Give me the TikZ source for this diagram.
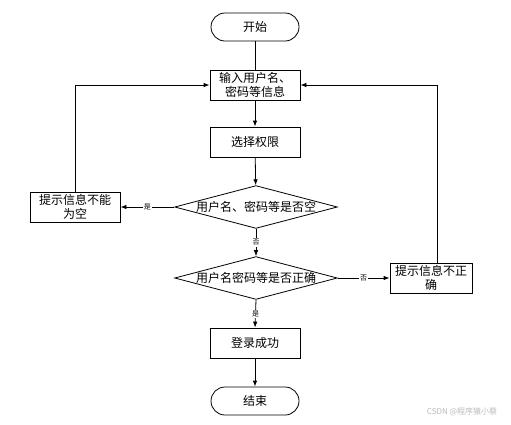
\documentclass[tikz,border=0pt]{standalone}
\usepackage{fontspec}
\setmainfont{Noto Sans CJK SC}
\usetikzlibrary{shapes.geometric,arrows.meta}

\tikzset{
    box/.style={draw, minimum width=90pt, minimum height=30pt, align=center, inner sep=1pt},
    term/.style={draw, rounded corners=14pt, minimum width=88pt, minimum height=28pt},
    decide/.style={diamond, draw, aspect=3.8, minimum width=160pt, minimum height=42pt, inner sep=0pt},
    lbl/.style={fill=white, inner sep=1pt, font=\fontsize{7}{8}\selectfont},
    flow/.style={-{Latex[length=6pt,width=4.5pt]}}
}

\begin{document}
\begin{tikzpicture}[x=1pt, y=-1pt, line width=0.8pt, font=\fontsize{12}{14}\selectfont]
    \useasboundingbox (0,0) rectangle (511,424);

    \node[term] (start) at (255,27) {开始};
    \node[box] (input) at (255,85) {输入用户名、\\密码等信息};
    \node[box] (perm) at (255,142) {选择权限};
    \node[decide] (empty) at (256,207) {用户名、密码等是否空};
    \node[box] (emptymsg) at (75,207) {提示信息不能\\为空};
    \node[decide] (check) at (256,278) {用户名密码等是否正确};
    \node[box, minimum width=82pt] (wrongmsg) at (431,278) {提示信息不正\\确};
    \node[box] (ok) at (255,343) {登录成功};
    \node[term] (finish) at (255,401) {结束};

    \draw (start) -- (input);
    \draw[flow] (input) -- (perm);
    \draw[flow] (perm) -- (empty);
    \draw[flow] (empty.west) -- node[lbl]{是} (emptymsg.east);
    \draw[flow] (emptymsg.north) |- (input.west);
    \draw[flow] (empty.south) -- node[lbl]{否} (check.north);
    \draw[flow] (check.east) -- node[lbl]{否} (wrongmsg.west);
    \draw[flow] ([xshift=6pt]wrongmsg.north) |- (input.east);
    \draw[flow] (check.south) -- node[lbl]{是} (ok.north);
    \draw[flow] (ok) -- (finish);

    % watermark
    \node[text=gray!55, font=\fontsize{8}{9}\selectfont] (mark) at (462,412) {CSDN @程序猿小蔡};
\end{tikzpicture}
\end{document}
